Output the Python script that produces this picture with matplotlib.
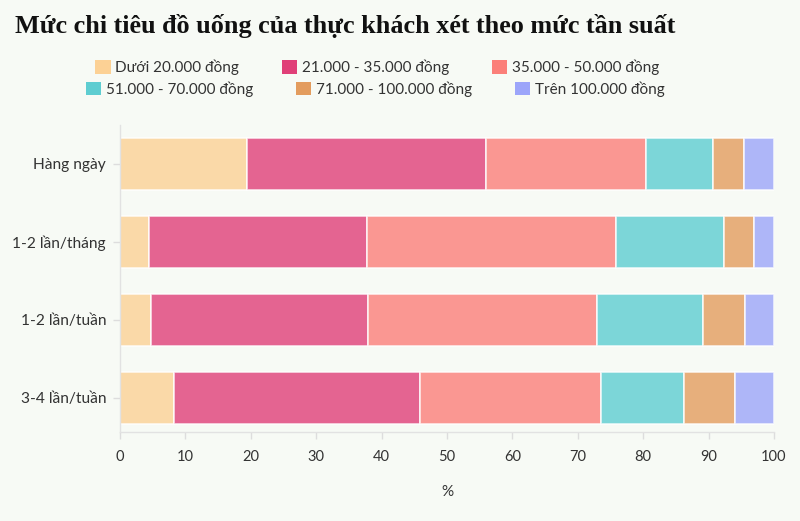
import matplotlib

matplotlib.use("Agg")

import matplotlib.pyplot as plt
import numpy as np
from matplotlib.patches import Patch

plt.rcParams["font.family"] = ["Lato", "Noto Sans", "DejaVu Sans"]

categories = ["Hàng ngày", "1-2 lần/tháng", "1-2 lần/tuần", "3-4 lần/tuần"]
series_names = [
    "Dưới 20.000 đồng",
    "21.000 - 35.000 đồng",
    "35.000 - 50.000 đồng",
    "51.000 - 70.000 đồng",
    "71.000 - 100.000 đồng",
    "Trên 100.000 đồng",
]
duoi_20 = [19.4, 4.5, 4.7, 8.2]
tu_21_35 = [36.6, 33.2, 33.2, 37.7]
tu_35_50 = [24.4, 38.2, 35.0, 27.6]
tu_51_70 = [10.2, 16.4, 16.3, 12.8]
tu_71_100 = [4.8, 4.6, 6.4, 7.7]
tren_100 = [4.6, 3.1, 4.4, 6.0]
x_ticks = [0, 10, 20, 30, 40, 50, 60, 70, 80, 90, 100]

colors = ["#fcd195", "#e03f78", "#fb7f79", "#5ecdd1", "#e39c5e", "#9ca5fa"]
bg = "#f7faf5"
text_color = "#333333"

fig = plt.figure(figsize=(8, 5.21), dpi=100, facecolor=bg)
ax = fig.add_axes([0.15, 0.171, 0.8175, 0.589], facecolor=bg)

values = [duoi_20, tu_21_35, tu_35_50, tu_51_70, tu_71_100, tren_100]
y = np.arange(len(categories))
left = np.zeros(len(categories))
for name, vals, col in zip(series_names, values, colors):
    ax.barh(y, vals, left=left, height=0.67, color=col, alpha=0.8,
            edgecolor="white", linewidth=1.2, label=name)
    left += np.array(vals)

ax.set_xlim(0, 100)
ax.set_ylim(3.44, -0.5)
ax.set_yticks(y)
ax.set_yticklabels(categories, fontsize=11.2, color=text_color)
ax.set_xticks(x_ticks)
ax.set_xticklabels([str(t) for t in x_ticks], fontsize=10.5, color=text_color)
ax.set_xlabel("%", fontsize=11, color=text_color, labelpad=15)
ax.tick_params(axis="both", colors="#dddddd", labelcolor=text_color, length=5, width=1)
ax.tick_params(axis="x", pad=8)
ax.tick_params(axis="y", pad=5)
for side in ["top", "right"]:
    ax.spines[side].set_visible(False)
for side in ["left", "bottom"]:
    ax.spines[side].set_color("#e2e2e2")
    ax.spines[side].set_linewidth(1)

fig.text(0.019, 0.950, "Mức chi tiêu đồ uống của thực khách xét theo mức tần suất",
         fontsize=18.8, fontweight="bold", family=["Liberation Serif", "DejaVu Serif"],
         color="#111111", va="center", ha="left")

handles = [Patch(facecolor=c, edgecolor="none", label=n) for n, c in zip(series_names, colors)]
for row, (xx, yy) in enumerate([(0.4715, 0.870), (0.4690, 0.829)]):
    leg = fig.legend(handles=handles[row * 3:row * 3 + 3], loc="center",
                     bbox_to_anchor=(xx, yy), ncol=3, frameon=False,
                     fontsize=11, handlelength=1.0, handleheight=1.0,
                     handletextpad=0.3, columnspacing=2.8, borderaxespad=0)
    for t in leg.get_texts():
        t.set_color(text_color)

fig.savefig("out.png", dpi=100, facecolor=bg)
